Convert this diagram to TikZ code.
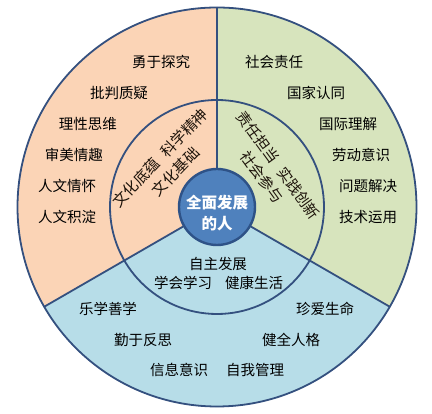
\documentclass[tikz,border=0pt]{standalone}
\usepackage{fontspec}
\usetikzlibrary{calc}
\setmainfont{Noto Sans CJK SC}
\definecolor{peach}{HTML}{FBD4B6}
\definecolor{sage}{HTML}{D7E4BD}
\definecolor{skyb}{HTML}{B7DDE8}
\definecolor{rim}{HTML}{34507F}
\definecolor{core}{HTML}{4F81BD}
\definecolor{corerim}{HTML}{2E5287}
\tikzset{
  lbl/.style={font=\fontsize{14.5}{16}\selectfont, text=black, inner sep=0pt, text height=11.5pt, text depth=1.5pt},
  rotlbl/.style={font=\fontsize{15}{17}\selectfont, text=black!85!brown, inner sep=0pt, text height=12pt, text depth=1.5pt},
  corelbl/.style={font=\fontsize{15.5}{17}\selectfont\bfseries, text=white, inner sep=0pt, text height=12pt, text depth=1.5pt},
  divider/.style={draw=rim, line width=1.8pt},
}
\begin{document}
\begin{tikzpicture}[x=1pt,y=1pt]
\useasboundingbox (0,0) rectangle (432,414);
\coordinate (C) at (217,207);
% sectors
\fill[peach] (C) -- ++(90:200) arc[start angle=90,end angle=210,radius=200] -- cycle;
\fill[sage] (C) -- ++(-30:200) arc[start angle=-30,end angle=90,radius=200] -- cycle;
\fill[skyb] (C) -- ++(210:200) arc[start angle=210,end angle=330,radius=200] -- cycle;
% dividers
\coordinate (d1a) at ($(C)+(90:38)$);
\coordinate (d1b) at ($(C)+(90:200)$);
\coordinate (d2a) at ($(C)+(210:38)$);
\coordinate (d2b) at ($(C)+(210:200)$);
\coordinate (d3a) at ($(C)+(330:38)$);
\coordinate (d3b) at ($(C)+(330:200)$);
\draw[divider] (d1a) -- (d1b);
\draw[divider] (d2a) -- (d2b);
\draw[divider] (d3a) -- (d3b);
% circles
\draw[divider] (C) circle[radius=107];
\draw[divider] (C) circle[radius=199.5];
\node[circle, fill=core, draw=corerim, line width=2.4pt, minimum size=76pt, inner sep=0pt] (core) at (C) {};
\node[corelbl] (t1) at (217,211) {全面发展};
\node[corelbl] (t2) at (217,190) {的人};
% left outer
\node[lbl] (a1) at (161,351) {勇于探究};
\node[lbl] (a2) at (119,320) {批判质疑};
\node[lbl] (a3) at (88,289) {理性思维};
\node[lbl] (a4) at (74,258) {审美情趣};
\node[lbl] (a5) at (67,227) {人文情怀};
\node[lbl] (a6) at (67,196) {人文积淀};
% right outer
\node[lbl] (b1) at (274,351) {社会责任};
\node[lbl] (b2) at (316,320) {国家认同};
\node[lbl] (b3) at (348,289) {国际理解};
\node[lbl] (b4) at (361,258) {劳动意识};
\node[lbl] (b5) at (368,227) {问题解决};
\node[lbl] (b6) at (368,196) {技术运用};
% bottom outer
\node[lbl] (c1) at (108,104) {乐学善学};
\node[lbl] (c2) at (325,104) {珍爱生命};
\node[lbl] (c3) at (143,73) {勤于反思};
\node[lbl] (c4) at (291,73) {健全人格};
\node[lbl] (c5) at (179,43) {信息意识};
\node[lbl] (c6) at (255,43) {自我管理};
% bottom inner
\node[lbl] (m1) at (218,149) {自主发展};
\node[lbl] (m2) at (183,130) {学会学习};
\node[lbl] (m3) at (254,130) {健康生活};
% rotated inner
\node[rotlbl, rotate=46] (r1) at (160.5,256) {文化底蕴\hspace{0.6em}科学精神};
\node[rotlbl, rotate=46] (r2) at (176,242) {文化基础};
\node[rotlbl, rotate=-54] (r3) at (278,248.5) {责任担当\hspace{0.6em}实践创新};
\node[rotlbl, rotate=-54] (r4) at (261.5,236.5) {社会参与};
\end{tikzpicture}
\end{document}
